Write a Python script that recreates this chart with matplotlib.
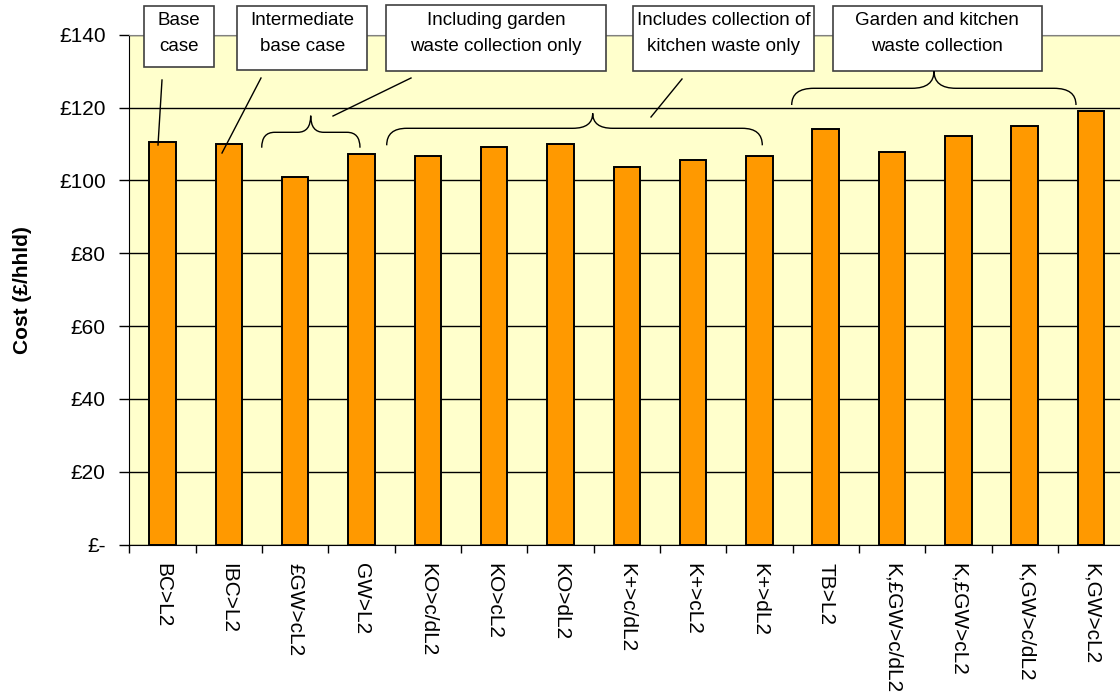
import matplotlib
matplotlib.use("Agg")
import matplotlib.pyplot as plt
from matplotlib.path import Path
from matplotlib.patches import PathPatch, Rectangle
from matplotlib.lines import Line2D
from matplotlib.transforms import Affine2D
from matplotlib.ticker import FuncFormatter, MultipleLocator, FixedLocator

plt.rcParams["font.family"] = ["Liberation Sans", "DejaVu Sans"]

W, H = 1120, 700

# data
scenarios = [
    "BC>L2", "IBC>L2", "£GW>cL2", "GW>L2", "KO>c/dL2", "KO>cL2", "KO>dL2",
    "K+>c/dL2", "K+>cL2", "K+>dL2", "TB>L2", "K,£GW>c/dL2", "K,£GW>cL2",
    "K,GW>c/dL2", "K,GW>cL2",
]
cost = [110.4, 109.9, 100.9, 107.3, 106.7, 109.1, 110.0,
        103.7, 105.6, 106.7, 114.0, 107.8, 112.2, 114.9, 119.1]

group_labels = [
    "Base\ncase",
    "Intermediate\nbase case",
    "Including garden\nwaste collection only",
    "Includes collection of\nkitchen waste only",
    "Garden and kitchen\nwaste collection",
]


fig = plt.figure(figsize=(W / 100, H / 100), dpi=100)
ax = fig.add_axes([129.3 / W, 1 - 544.5 / H, 1 - 129.3 / W, (544.5 - 34.7) / H])
ax.set_facecolor("#FFFFCC")

x = range(len(scenarios))
ax.bar(x, cost, width=0.4, color="#FF9900", edgecolor="black", linewidth=1.4, zorder=3)

ax.set_xlim(-0.5, -0.5 + (W - 129.3) / 66.33)
ax.set_ylim(0, 140)
ax.yaxis.set_major_locator(MultipleLocator(20))
ax.yaxis.set_major_formatter(FuncFormatter(lambda v, p: "£-" if v == 0 else f"£{v:.0f}"))
ax.tick_params(axis="y", labelsize=15, length=7, width=1, pad=10, direction="out")

ax.set_xticks(list(x))
ax.set_xticklabels(scenarios, rotation=270, fontsize=15, va="top", ha="center")
ax.tick_params(axis="x", which="major", length=0, pad=13)
ax.xaxis.set_minor_locator(FixedLocator([i - 0.5 for i in range(len(scenarios) + 1)]))
ax.tick_params(axis="x", which="minor", length=6, width=1, direction="out")

ax.set_axisbelow(True)
ax.grid(axis="y", color="black", linewidth=1)
ax.get_ygridlines()[-1].set_color("#808080")
ax.spines["right"].set_visible(False)
ax.spines["top"].set_color("#808080")
ax.spines["left"].set_color("black")
ax.spines["bottom"].set_color("black")

fig.text(23 / W, 1 - 289.6 / H, "Cost (£/hhld)", rotation=90, ha="center", va="center",
         fontsize=15, fontweight="bold")

# pixel coordinates (y down) for the callouts
px = Affine2D().scale(1 / W, -1 / H).translate(0, 1) + fig.transFigure

boxes = [
    (144, 5.7, 214, 67.3),
    (237.3, 5.7, 367.3, 70.3),
    (386, 4.7, 606.3, 71.3),
    (633, 5.7, 814.3, 70.7),
    (832.7, 5.7, 1041.7, 70.7),
]
for (x0, y0, x1, y1), label in zip(boxes, group_labels):
    fig.patches.append(Rectangle((x0, y1), x1 - x0, y0 - y1, transform=px,
                                 facecolor="white", edgecolor="#404040", linewidth=1.2))
    fig.text((x0 + x1) / 2 / W, 1 - 33.5 / H, label, ha="center", va="center",
             fontsize=13.5, linespacing=1.65)

leaders = [
    ((162, 80), (158, 145)),
    ((261, 78), (222, 153)),
    ((411, 78), (333, 116)),
    ((682, 79), (651, 117)),
]
for (xa, ya), (xb, yb) in leaders:
    fig.lines.append(Line2D([xa, xb], [ya, yb], transform=px, color="black", linewidth=1))


def brace(x0, x1, xm, ye, yf, yt, r):
    verts = [
        (x0, ye), (x0, yf), (x0 + r, yf),
        (xm - r, yf),
        (xm, yf), (xm, yt),
        (xm, yf), (xm + r, yf),
        (x1 - r, yf),
        (x1, yf), (x1, ye),
    ]
    codes = [Path.MOVETO, Path.CURVE3, Path.CURVE3, Path.LINETO,
             Path.CURVE3, Path.CURVE3, Path.CURVE3, Path.CURVE3,
             Path.LINETO, Path.CURVE3, Path.CURVE3]
    fig.patches.append(PathPatch(Path(verts, codes), transform=px, fill=False,
                                 edgecolor="black", linewidth=1))


brace(261.7, 360, 310.7, 147.7, 132.3, 115.7, 13)
brace(386.7, 762.3, 592.7, 145.3, 128.3, 113.3, 20)
brace(791.7, 1076, 934, 105, 88.3, 71, 22)

fig.savefig("out.png", dpi=100)
